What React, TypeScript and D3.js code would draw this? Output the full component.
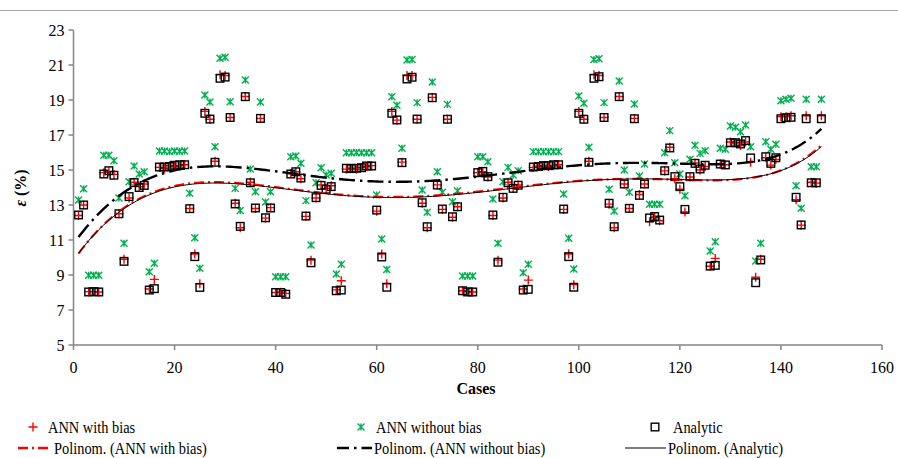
import React from "react";
import * as d3 from "d3";

// values, cases 1..148 (4 blocks of 37)
const analytic = [
  12.43, 13.0, 8.03, 8.05, 8.03, 14.77, 14.96, 14.7, 12.5, 9.78, 13.48, 14.28, 14.0, 14.12, 8.14, 8.22, 15.17, 15.17, 15.2, 15.27, 15.3, 15.3, 12.79, 10.05, 8.29, 18.24, 17.91, 15.44, 20.24, 20.31, 18.0, 13.06, 11.78, 19.19, 14.27, 12.83, 17.95,
  12.27, 12.83, 8.0, 8.0, 7.9, 14.77, 14.9, 14.54, 12.37, 9.7, 13.42, 14.12, 13.9, 14.05, 8.1, 8.14, 15.1, 15.08, 15.1, 15.13, 15.23, 15.23, 12.71, 10.03, 8.3, 18.24, 17.86, 15.42, 20.2, 20.3, 17.91, 13.13, 11.76, 19.13, 14.14, 12.77, 17.9,
  12.33, 12.9, 8.1, 8.03, 8.03, 14.85, 14.92, 14.62, 12.43, 9.73, 13.44, 14.27, 13.95, 14.13, 8.14, 8.18, 15.17, 15.2, 15.25, 15.25, 15.3, 15.3, 12.77, 10.05, 8.3, 18.24, 17.9, 15.44, 20.24, 20.33, 18.0, 13.1, 11.76, 19.19, 14.2, 12.81, 17.93,
  13.55, 14.2, 12.26, 12.34, 12.14, 14.96, 16.26, 14.62, 14.05, 12.75, 14.62, 15.38, 15.06, 15.27, 9.51, 9.55, 15.34, 15.29, 16.56, 16.56, 16.49, 16.68, 15.69, 8.56, 9.86, 15.76, 15.38, 15.7, 17.93, 17.99, 18.01, 13.44, 11.86, 17.93, 14.27, 14.27, 17.93,
];

const annWithBias = [
  12.4, 13.0, 8.05, 8.05, 8.03, 14.85, 14.9, 14.75, 12.5, 9.9, 13.4, 14.3, 14.05, 14.2, 8.2, 8.75, 15.15, 15.1, 15.25, 15.2, 15.25, 15.3, 12.8, 10.2, 8.5, 18.35, 17.9, 15.5, 20.45, 20.4, 18.0, 13.1, 11.7, 19.2, 14.3, 12.8, 17.95,
  12.25, 12.85, 8.0, 8.02, 7.95, 14.8, 14.9, 14.5, 12.35, 9.85, 13.4, 14.15, 13.95, 14.1, 8.15, 8.67, 15.05, 15.1, 15.05, 15.15, 15.2, 15.25, 12.65, 10.2, 8.5, 18.35, 17.85, 15.45, 20.4, 20.4, 17.9, 13.1, 11.7, 19.15, 14.15, 12.75, 17.9,
  12.3, 12.9, 8.1, 8.05, 8.03, 14.85, 14.9, 14.6, 12.4, 9.85, 13.4, 14.3, 13.95, 14.15, 8.2, 8.71, 15.15, 15.2, 15.25, 15.2, 15.25, 15.3, 12.75, 10.2, 8.45, 18.35, 17.9, 15.5, 20.45, 20.4, 18.0, 13.05, 11.7, 19.2, 14.2, 12.8, 17.95,
  13.6, 14.2, 12.05, 12.3, 12.1, 14.95, 16.3, 14.5, 13.9, 12.6, 14.6, 15.4, 15.0, 15.2, 9.5, 9.95, 15.35, 15.3, 16.6, 16.55, 16.4, 16.6, 15.45, 8.87, 9.9, 15.7, 15.28, 15.6, 18.05, 18.05, 18.1, 13.3, 11.85, 18.1, 14.3, 14.25, 18.1,
];

const annWithoutBias = [
  13.29, 13.93, 8.98, 8.98, 8.98, 15.84, 15.84, 15.53, 13.4, 10.81, 14.33, 15.23, 14.77, 14.9, 9.19, 9.67, 16.09, 16.09, 16.05, 16.09, 16.07, 16.09, 13.67, 11.13, 9.38, 19.29, 18.89, 16.33, 21.38, 21.44, 18.9, 13.95, 12.68, 20.14, 15.06, 13.76, 18.89,
  13.17, 13.76, 8.9, 8.9, 8.9, 15.76, 15.8, 15.38, 13.25, 10.71, 14.27, 15.13, 14.71, 14.81, 9.06, 9.61, 15.99, 15.99, 16.0, 15.99, 15.99, 15.99, 13.57, 11.06, 9.32, 19.19, 18.7, 16.24, 21.29, 21.32, 18.85, 13.86, 12.58, 20.03, 14.9, 13.73, 18.75,
  13.19, 13.82, 8.94, 8.94, 8.94, 15.76, 15.76, 15.47, 13.34, 10.81, 14.33, 15.15, 14.71, 14.96, 9.13, 9.61, 16.05, 16.05, 16.05, 16.05, 16.05, 16.05, 13.63, 11.1, 9.34, 19.23, 18.81, 16.3, 21.32, 21.36, 18.85, 13.9, 12.66, 20.09, 15.0, 13.73, 18.77,
  14.66, 15.34, 13.04, 13.04, 13.04, 15.99, 17.25, 15.42, 14.77, 13.53, 15.61, 16.41, 15.95, 16.1, 10.37, 10.9, 16.24, 16.18, 17.51, 17.44, 17.19, 17.57, 16.33, 9.8, 10.81, 16.62, 16.18, 16.47, 18.96, 19.04, 19.1, 14.1, 12.81, 19.04, 15.19, 15.19, 19.04,
];

const xTicks = [0, 20, 40, 60, 80, 100, 120, 140, 160];
const yTicks = [5, 7, 9, 11, 13, 15, 17, 19, 21, 23];

const FONT = "'Liberation Serif', 'Times New Roman', serif";
const AXIS = "#868686";
const RED = "#ff0000";
const GREEN = "#00b050";

// least squares polynomial (like Excel's "Polinom." trendline)
function polyFit(xs: number[], ys: number[], order: number) {
  const lo = d3.min(xs)!, hi = d3.max(xs)!;
  const c = (lo + hi) / 2, s = (hi - lo) / 2;
  const n = order + 1;
  const A = Array.from({ length: n }, () => new Array(n + 1).fill(0));
  xs.forEach((xv, i) => {
    const t = (xv - c) / s;
    const p = [1];
    for (let k = 1; k < n; k++) p.push(p[k - 1] * t);
    for (let r = 0; r < n; r++) {
      for (let q = 0; q < n; q++) A[r][q] += p[r] * p[q];
      A[r][n] += p[r] * ys[i];
    }
  });
  for (let col = 0; col < n; col++) {
    let piv = col;
    for (let r = col + 1; r < n; r++) if (Math.abs(A[r][col]) > Math.abs(A[piv][col])) piv = r;
    [A[col], A[piv]] = [A[piv], A[col]];
    for (let r = 0; r < n; r++) {
      if (r === col) continue;
      const f = A[r][col] / A[col][col];
      for (let q = col; q <= n; q++) A[r][q] -= f * A[col][q];
    }
  }
  const coef = A.map((row, i) => row[n] / row[i]);
  return (xv: number) => {
    const t = (xv - c) / s;
    let v = 0;
    for (let k = n - 1; k >= 0; k--) v = v * t + coef[k];
    return v;
  };
}

const W = 898;
const H = 458;

export default function App() {
  const x = d3.scaleLinear().domain([0, 160]).range([73.5, 882]);
  const y = d3.scaleLinear().domain([5, 23]).range([345, 30]);
  const cases = analytic.map((_, i) => i + 1);

  const trendX = d3.range(1, 148.001, 0.5);
  const line = d3.line<[number, number]>().x(d => x(d[0])).y(d => y(d[1]));
  const trend = (vals: number[]) => {
    const f = polyFit(cases, vals, 6);
    return line(trendX.map(t => [t, f(t)] as [number, number])) || "";
  };

  const plus = (cx: number, cy: number, k: string | number) => (
    <path key={k} d={`M${cx - 4.5},${cy}h9M${cx},${cy - 4.5}v9`} stroke={RED} strokeWidth={1.4} fill="none" />
  );
  const star = (cx: number, cy: number, k: string | number) => (
    <path key={k} d={`M${cx - 3.5},${cy - 3.5}L${cx + 3.5},${cy + 3.5}M${cx + 3.5},${cy - 3.5}L${cx - 3.5},${cy + 3.5}M${cx},${cy - 3.5}v7`} stroke={GREEN} strokeWidth={1.4} fill="none" />
  );
  const square = (cx: number, cy: number, k: string | number) => (
    <rect key={k} x={cx - 3.8} y={cy - 3.8} width={7.6} height={7.6} fill="none" stroke="#000" strokeWidth={1.4} />
  );

  // legend text is a little condensed in the original
  const legendText = (tx: number, ty: number, s: string) => (
    <text transform={`translate(${tx},${ty}) scale(0.9,1)`} fontSize={16} dominantBaseline="central" fontFamily={FONT}>{s}</text>
  );

  return (
    <svg width={W} height={H} style={{ position: "absolute", left: 0, top: 0, background: "#fff" }}>
      <line x1={0} x2={W} y1={10.5} y2={10.5} stroke="#a6a6a6" strokeWidth={1.2} />

      {/* axes */}
      <line x1={x(0)} x2={x(0)} y1={y(23)} y2={y(5)} stroke={AXIS} strokeWidth={1.5} />
      <line x1={x(0)} x2={x(160)} y1={y(5)} y2={y(5)} stroke={AXIS} strokeWidth={1.5} />
      {yTicks.map(t => (
        <g key={"y" + t}>
          <line x1={x(0) - 5} x2={x(0)} y1={y(t)} y2={y(t)} stroke={AXIS} strokeWidth={1.5} />
          <text x={x(0) - 9} y={y(t)} textAnchor="end" dominantBaseline="central" fontSize={16} fontFamily={FONT}>{t}</text>
        </g>
      ))}
      {xTicks.map(t => (
        <g key={"x" + t}>
          <line x1={x(t)} x2={x(t)} y1={y(5)} y2={y(5) + 5} stroke={AXIS} strokeWidth={1.5} />
          <text x={x(t)} y={367} textAnchor="middle" dominantBaseline="central" fontSize={16} fontFamily={FONT}>{t}</text>
        </g>
      ))}
      <text x={476} y={388} textAnchor="middle" dominantBaseline="central" fontSize={16} fontWeight="bold" fontFamily={FONT}>Cases</text>
      <text transform="translate(20,188) rotate(-90)" textAnchor="middle" dominantBaseline="central" fontSize={16} fontWeight="bold" fontFamily={FONT}>
        <tspan fontStyle="italic">ε</tspan> (%)
      </text>

      {/* points */}
      <g>{annWithBias.map((v, i) => plus(x(cases[i]), y(v), i))}</g>
      <g>{annWithoutBias.map((v, i) => star(x(cases[i]), y(v), i))}</g>
      <g>{analytic.map((v, i) => square(x(cases[i]), y(v), i))}</g>

      {/* trendlines */}
      <path d={trend(annWithBias)} fill="none" stroke={RED} strokeWidth={2.2} strokeDasharray="10,4,2,4" />
      <path d={trend(annWithoutBias)} fill="none" stroke="#000" strokeWidth={2.4} strokeDasharray="16,5,2.5,5" />
      <path d={trend(analytic)} fill="none" stroke="#000" strokeWidth={1} />

      {/* legend */}
      {plus(33, 427, "lg1")}
      {legendText(48, 427, "ANN with bias")}
      {star(361, 427, "lg2")}
      {legendText(376, 427, "ANN without bias")}
      {square(655, 427, "lg3")}
      {legendText(673, 427, "Analytic")}

      <line x1={18} x2={52} y1={448} y2={448} stroke={RED} strokeWidth={2.5} strokeDasharray="10,4,2,4" />
      {legendText(54, 448, "Polinom. (ANN with bias)")}
      <line x1={337} x2={372} y1={448} y2={448} stroke="#000" strokeWidth={2.5} strokeDasharray="12,5,2.5,5" />
      {legendText(374, 448, "Polinom. (ANN without bias)")}
      <line x1={625} x2={666} y1={448} y2={448} stroke="#000" strokeWidth={1} />
      {legendText(668, 448, "Polinom. (Analytic)")}
    </svg>
  );
}
